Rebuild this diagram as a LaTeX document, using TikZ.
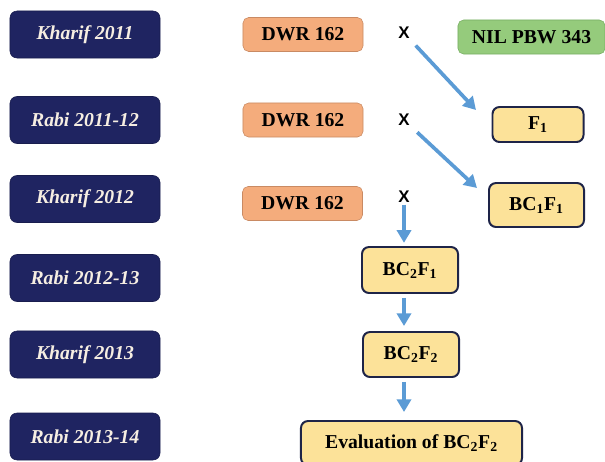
\documentclass[tikz,border=0pt]{standalone}
\usepackage{fontspec}
\setmainfont{Liberation Serif}
\newfontfamily\crossfont{Liberation Sans}
\usepackage{tikz}
\usetikzlibrary{
  positioning,
  arrows.meta
}
\usepackage{xcolor}
\definecolor{seasonblue}{HTML}{1F2461}
\definecolor{seasontext}{HTML}{F6EEE2}
\definecolor{parentfill}{HTML}{F4AC7C}
\definecolor{parentline}{HTML}{C98A63}
\definecolor{donorfill}{HTML}{95CB7C}
\definecolor{donorline}{HTML}{78AE63}
\definecolor{progfill}{HTML}{FCE299}
\definecolor{progline}{HTML}{1E2448}
\definecolor{flowblue}{HTML}{5B9BD5}

\begin{document}
\begin{tikzpicture}[x=0.025cm,y=-0.025cm,
    season/.style={rectangle,rounded corners=5pt,fill=seasonblue,draw=seasonblue!80!black,
      minimum width=3.75cm,minimum height=1.175cm,text=seasontext,
      font=\fontsize{14}{16}\selectfont\bfseries\itshape},
    parent/.style={rectangle,rounded corners=4pt,fill=parentfill,draw=parentline,
      minimum width=3cm,minimum height=0.85cm,font=\fontsize{14}{16}\selectfont\bfseries},
    donor/.style={rectangle,rounded corners=4pt,fill=donorfill,draw=donorline,
      minimum width=3.675cm,minimum height=0.85cm,font=\fontsize{14}{16}\selectfont\bfseries},
    progeny/.style={rectangle,rounded corners=5pt,fill=progfill,draw=progline,line width=1.4pt,
      font=\fontsize{14}{16}\selectfont\bfseries},
    cross/.style={inner sep=0pt,font=\fontsize{12}{14}\selectfont\crossfont\bfseries},
    flow/.style={draw=flowblue,line width=2.6pt,-{Triangle[length=9pt,width=10pt]}}]
        \useasboundingbox (0,0) rectangle (605,461);

        \node[season] (s1) at (85,34.5) {Kharif 2011};
        \node[season] (s2) at (85,120) {Rabi 2011-12};
        \node[season] (s3) at (85,199) {Kharif 2012};
        \node[season] (s4) at (85,278) {Rabi 2012-13};
        \node[season] (s5) at (85,354.5) {Kharif 2013};
        \node[season] (s6) at (85,436.5) {Rabi 2013-14};

        \node[parent] (p1) at (303,34.5) {DWR 162};
        \node[parent] (p2) at (303,120) {DWR 162};
        \node[parent] (p3) at (302.5,203.5) {DWR 162};

        \node[cross] (x1) at (404,33) {X};
        \node[cross] (x2) at (404,120) {X};
        \node[cross] (x3) at (404,197) {X};

        \node[donor] (nil) at (531.5,37) {NIL PBW 343};

        \node[progeny,minimum width=2.275cm,minimum height=0.875cm] (f1) at (538,124.5) {F\textsubscript{1}};
        \node[progeny,minimum width=2.375cm,minimum height=1.1cm] (bc1f1) at (536.5,205) {BC\textsubscript{1}F\textsubscript{1}};
        \node[progeny,minimum width=2.4cm,minimum height=1.15cm] (bc2f1) at (410,270) {BC\textsubscript{2}F\textsubscript{1}};
        \node[progeny,minimum width=2.4cm,minimum height=1.125cm] (bc2f2) at (411,354.5) {BC\textsubscript{2}F\textsubscript{2}};
        \node[progeny,minimum width=5.525cm,minimum height=1.1cm] (eval) at (411.5,443) {Evaluation of BC\textsubscript{2}F\textsubscript{2}};

        \coordinate (f1in) at (476,110);
        \coordinate (bc1in) at (477,188);

        \draw[flow,shorten <=0.22cm] (x1) -- (f1in);
        \draw[flow,shorten <=0.25cm] (x2) -- (bc1in);
        \draw[flow,shorten <=0.04cm,shorten >=0.08cm] (x3) -- (x3 |- bc2f1.north);
        \draw[flow,shorten <=0.1cm,shorten >=0.125cm] (bc2f1.south -| x3) -- (bc2f2.north -| x3);
        \draw[flow,shorten <=0.1cm,shorten >=0.2cm] (bc2f2.south -| x3) -- (eval.north -| x3);
    \end{tikzpicture}
\end{document}
